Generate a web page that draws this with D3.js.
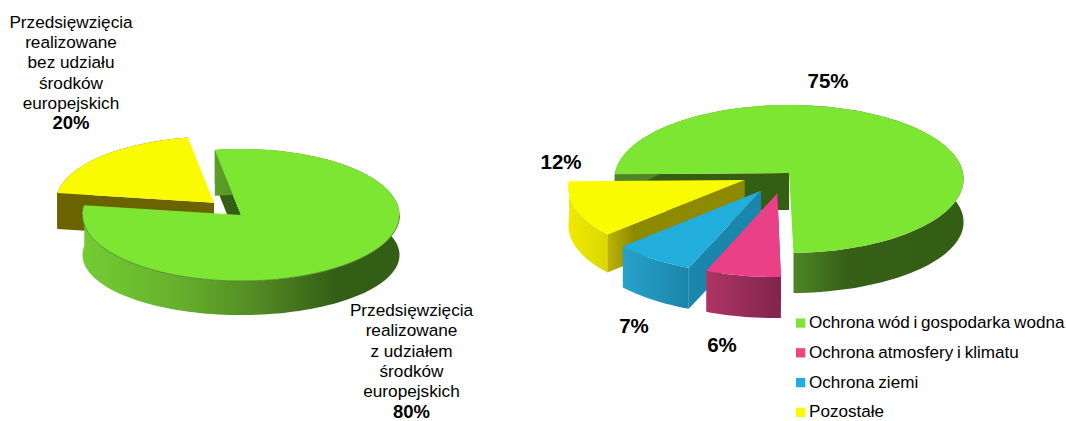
<!DOCTYPE html>
<html><head><meta charset="utf-8">
<script src="https://cdn.jsdelivr.net/npm/d3@7"></script>
<style>html,body{margin:0;padding:0;background:#fff;overflow:hidden}svg{display:block}text{font-family:"Liberation Sans",Arial,sans-serif;fill:#000}</style>
</head><body><svg id="c" width="1066" height="421"></svg>
<script>
// Left chart data
const leftCategories = ["Przedsięwzięcia realizowane z udziałem środków europejskich", "Przedsięwzięcia realizowane bez udziału środków europejskich"];
const leftValues = [80, 20];
const leftLabels = ["80%", "20%"];
// Right chart data (labels are the printed rounded values)
const rightCategories = ["Ochrona wód i gospodarka wodna", "Ochrona atmosfery i klimatu", "Ochrona ziemi", "Pozostałe"];
const rightValues = [74.9, 6.3, 7.0, 11.8];
const rightLabels = ["75%", "6%", "7%", "12%"];

const svg = d3.select("#c"), defs = svg.append("defs");
const rad = d => d * Math.PI / 180;

function makeProjection(cfg) {
  const {cx, cy, A, B, p} = cfg;
  const toPlane = (sx, sy) => {
    const dy = sy - cy, v = -dy / (B + p * dy);
    return [(sx - cx) * (1 + p * v) / A, v];
  };
  const toScreen = (u, v) => [cx + A * u / (1 + p * v), cy - B * v / (1 + p * v)];
  return {toPlane, toScreen};
}

function gradient(id, x1, x2, stops) {
  const g = defs.append("linearGradient").attr("id", id).attr("gradientUnits", "userSpaceOnUse")
    .attr("x1", x1).attr("x2", x2).attr("y1", 0).attr("y2", 0);
  stops.forEach(s => g.append("stop").attr("offset", s[0]).attr("stop-color", s[1]));
  return `url(#${id})`;
}

function drawSlice(g, proj, arc, style) {
  const [u0, v0] = proj.toPlane(style.apex[0], style.apex[1]);
  const a0 = arc.startAngle, a1 = arc.endAngle;
  const n = Math.max(8, Math.ceil((a1 - a0) / rad(2)));
  const rim = d3.range(n + 1).map(i => {
    const t = a0 + (a1 - a0) * i / n;
    return proj.toScreen(u0 + Math.sin(t), v0 + Math.cos(t));
  });
  const apex = proj.toScreen(u0, v0);
  const k = style.squash === undefined ? 1 : style.squash;
  const wd = style.wallDepth === undefined ? style.depth : style.wallDepth;
  const faceDown = q => [q[0], q[1] + style.depth];
  const wallDown = q => [q[0], apex[1] + (q[1] - apex[1]) * k + wd];
  const line = d3.line();
  g.append("path").attr("d", line([apex, rim[0], faceDown(rim[0]), faceDown(apex)]) + "Z").attr("fill", style.face);
  g.append("path").attr("d", line(rim.concat(rim.map(wallDown).reverse())) + "Z").attr("fill", style.wall);
  g.append("path").attr("d", line([apex].concat(rim)) + "Z").attr("fill", style.top);
  if (style.rimStroke) {
    g.append("path").attr("d", line(rim.filter((q, i) => {
      const t = a0 + (a1 - a0) * i / n;
      return t > rad(90) && t < rad(272);
    }))).attr("fill", "none").attr("stroke", style.rimStroke).attr("stroke-width", 0.8);
  }
}

// LEFT PIE
const leftPie = d3.pie().sort(null).value(d => d).startAngle(rad(-9.5)).endAngle(rad(350.5));
const leftProj = makeProjection({cx: 241, cy: 215, A: 158.5, B: 66, p: 0});
const leftArcs = leftPie(leftValues);
const leftG = svg.append("g");
const leftWall = gradient("lw", 83, 400, [[0, "#74cc33"], [.3, "#66b02c"], [.55, "#528a24"], [.8, "#335e15"], [1, "#335e15"]]);
drawSlice(leftG, leftProj, leftArcs[1], {apex: [214, 202.7], depth: 36, top: "#fbfb00", wall: "#6b6300", face: "#6b6300"});
drawSlice(leftG, leftProj, leftArcs[0], {apex: [241, 215], depth: 34, wallDepth: 40, squash: 0.91, top: "#7ce632", wall: leftWall, face: "#345e14", rimStroke: "#4f7f2a"});

// RIGHT PIE
const rightPie = d3.pie().sort(null).value(d => d).startAngle(rad(-91)).endAngle(rad(269));
const rightProj = makeProjection({cx: 789, cy: 173, A: 174, B: 73.5, p: 0.081});
const rightArcs = rightPie(rightValues);
const rightG = svg.append("g");
const rightStyles = [
  {apex: [789, 173], depth: 37, wallDepth: 43.3, squash: 0.96, top: "#7ce632", face: "#345e14",
   wall: gradient("r0", 795, 963, [[0, "#4f8526"], [.3, "#375f18"], [1, "#345e14"]])},
  {apex: [777.3, 193.3], depth: 41, top: "#e94087", face: "#80244d",
   wall: gradient("r1", 708, 782, [[0, "#ad3463"], [1, "#80244d"]])},
  {apex: [761, 190.7], depth: 41, top: "#21aedd", face: "#1a86ab",
   wall: gradient("r2", 622, 690, [[0, "#27a2cc"], [1, "#1a84a8"]])},
  {apex: [744.7, 180], depth: 38, top: "#fbfb00", face: gradient("r3f", 606, 745, [[0, "#c0b800"], [.2, "#8e8a00"], [1, "#8e8a00"]]),
   wall: gradient("r3", 568, 606, [[0, "#f0ea00"], [1, "#dcd800"]])}
];
drawSlice(rightG, rightProj, rightArcs[0], rightStyles[0]);
[3, 2, 1].forEach(i => drawSlice(rightG, rightProj, rightArcs[i], rightStyles[i]));

// TEXT
function block(x, y0, step, lines, pct) {
  const t = svg.append("g").attr("text-anchor", "middle").attr("font-size", 17.2);
  lines.forEach((s, i) => t.append("text").attr("x", x).attr("y", y0 + i * step).text(s));
  t.append("text").attr("x", x).attr("y", y0 + lines.length * step).attr("font-weight", "bold").attr("font-size", 18.5).text(pct);
}
block(71, 27.8, 20.3, ["Przedsięwzięcia", "realizowane", "bez udziału", "środków", "europejskich"], leftLabels[1]);
block(411.5, 315.8, 20.4, ["Przedsięwzięcia", "realizowane", "z udziałem", "środków", "europejskich"], leftLabels[0]);

const pctPos = [[828, 88], [722, 352], [634, 333], [561, 169]];
rightLabels.forEach((s, i) => svg.append("text").attr("x", pctPos[i][0]).attr("y", pctPos[i][1])
  .attr("text-anchor", "middle").attr("font-weight", "bold").attr("font-size", 20.5).text(s));

// LEGEND
const legendY = d3.scalePoint().domain(rightCategories).range([323, 412.3]);
const legendColor = d3.scaleOrdinal().domain(rightCategories).range(["#7ce632", "#ee4488", "#21aedd", "#fbfb00"]);
const leg = svg.append("g").selectAll("g").data(rightCategories).join("g").attr("transform", d => `translate(796,${legendY(d)})`);
leg.append("rect").attr("x", 0).attr("y", -4.6).attr("width", 9.3).attr("height", 9.3).attr("fill", d => legendColor(d));
leg.append("text").attr("x", 13).attr("y", 5).attr("font-size", 17.1).attr("word-spacing", -1).text(d => d);
</script></body></html>
